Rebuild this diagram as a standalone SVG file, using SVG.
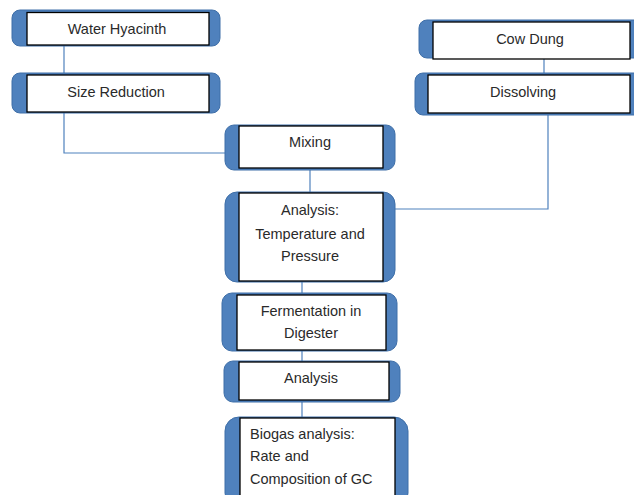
<svg xmlns="http://www.w3.org/2000/svg" width="634" height="495" viewBox="0 0 634 495">
<style>
.bar{fill:#4F81BD;stroke:#3F6FA8;stroke-width:1}
.box{fill:#fff;stroke:#000;stroke-width:1.3}
.t{font-family:"Liberation Sans",Arial,sans-serif;font-size:14.5px;fill:#2a2a2a;text-anchor:middle}
.l{text-anchor:start}
.c{fill:none;stroke:#4F81BD;stroke-width:1.2}
</style>
<rect width="634" height="495" fill="#fff"/>
<g id="connectors">
<path class="c" d="M64 45V74"/>
<path class="c" d="M64 112V153H226"/>
<path class="c" d="M544 58V74"/>
<path class="c" d="M548 114V209H395"/>
<path class="c" d="M310 168V193"/>
<path class="c" d="M302 281V294"/>
<path class="c" d="M302 350V362"/>
<path class="c" d="M302 401V418"/>
</g>
<g id="water-hyacinth">
<rect class="bar" x="12" y="10" width="208" height="36" rx="8"/>
<rect class="box" x="27" y="12.5" width="182" height="32.5"/>
<text class="t" x="117" y="34">Water Hyacinth</text>
</g>
<g id="size-reduction">
<rect class="bar" x="12" y="73" width="208" height="40" rx="8"/>
<rect class="box" x="27" y="75" width="182" height="37"/>
<text class="t" x="116" y="97">Size Reduction</text>
</g>
<g id="cow-dung">
<rect class="bar" x="419" y="20" width="225" height="38" rx="8"/>
<rect class="box" x="433" y="22" width="197" height="37"/>
<text class="t" x="530" y="44">Cow Dung</text>
</g>
<g id="dissolving">
<rect class="bar" x="415" y="73" width="229" height="42" rx="8"/>
<rect class="box" x="428" y="75" width="202" height="38"/>
<text class="t" x="523" y="97">Dissolving</text>
</g>
<g id="mixing">
<rect class="bar" x="225" y="125" width="170" height="45" rx="9"/>
<rect class="box" x="239" y="126" width="144" height="42"/>
<text class="t" x="310" y="147">Mixing</text>
</g>
<g id="analysis-tp">
<rect class="bar" x="225" y="192" width="170" height="90" rx="12"/>
<rect class="box" x="239" y="193" width="144" height="88"/>
<text class="t" x="310" y="215">Analysis:</text>
<text class="t" x="310" y="239">Temperature and</text>
<text class="t" x="310" y="261">Pressure</text>
</g>
<g id="fermentation">
<rect class="bar" x="222" y="293" width="175" height="58" rx="10"/>
<rect class="box" x="237" y="295" width="149" height="55"/>
<text class="t" x="311" y="316">Fermentation in</text>
<text class="t" x="311" y="338">Digester</text>
</g>
<g id="analysis">
<rect class="bar" x="224" y="361" width="176" height="41" rx="9"/>
<rect class="box" x="239" y="362" width="150" height="38"/>
<text class="t" x="311" y="383">Analysis</text>
</g>
<g id="biogas">
<rect class="bar" x="225" y="417" width="183" height="90" rx="14"/>
<rect class="box" x="240" y="418" width="155" height="90"/>
<text class="t l" x="250" y="439">Biogas analysis:</text>
<text class="t l" x="250" y="461">Rate and</text>
<text class="t l" x="250" y="484">Composition of GC</text>
</g>
</svg>
